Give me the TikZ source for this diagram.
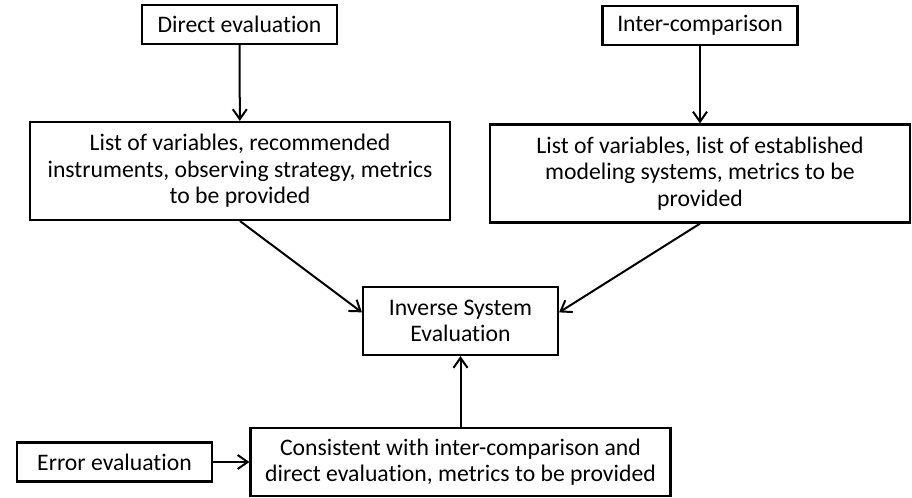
\documentclass[tikz,border=0pt]{standalone}
\usepackage{fontspec}
\setmainfont{Carlito}[Ligatures=NoCommon]
\usetikzlibrary{arrows.meta}

\begin{document}
\begin{tikzpicture}[x=0.5pt,y=-0.5pt,>={Straight Barb[length=5pt,width=7pt]},
	box/.style={draw,line width=1.1pt,align=center,inner sep=0pt,font=\fontsize{11.85}{13.3}\selectfont},
	small/.style={box,minimum width=97.5pt,minimum height=19.5pt},
	big/.style={box,minimum width=210pt,minimum height=49pt},
	flat/.style={box,minimum width=210pt,minimum height=34pt}]
	\useasboundingbox (0,0) rectangle (912,498);

	\node[small] (direct) at (239.5,24.5) {Direct evaluation};
	\node[small] (inter) at (700,25.5) {Inter-comparison};
	\node[big] (vardirect) at (240,171) {List of variables, recommended\\instruments, observing strategy, metrics\\to be provided};
	\node[big] (varinter) at (700,173.5) {List of variables, list of established\\modeling systems, metrics to be\\provided};
	\node[box,minimum width=97.5pt,minimum height=34pt] (inverse) at (460.5,321) {Inverse System\\Evaluation};
	\node[flat] (consistent) at (460.5,462) {Consistent with inter-comparison and\\direct evaluation, metrics to be provided};
	\node[small] (error) at (114.5,462) {Error evaluation};

	\draw[->,line width=1pt] (direct) -- (vardirect);
	\draw[->,line width=1pt] (inter) -- (varinter);
	\draw[->,line width=1pt] (vardirect.south) -- (inverse.175);
	\draw[->,line width=1pt] (varinter.south) -- (inverse.5);
	\draw[->,line width=1pt] (consistent) -- (inverse);
	\draw[->,line width=1pt] (error) -- (consistent);
\end{tikzpicture}
\end{document}
